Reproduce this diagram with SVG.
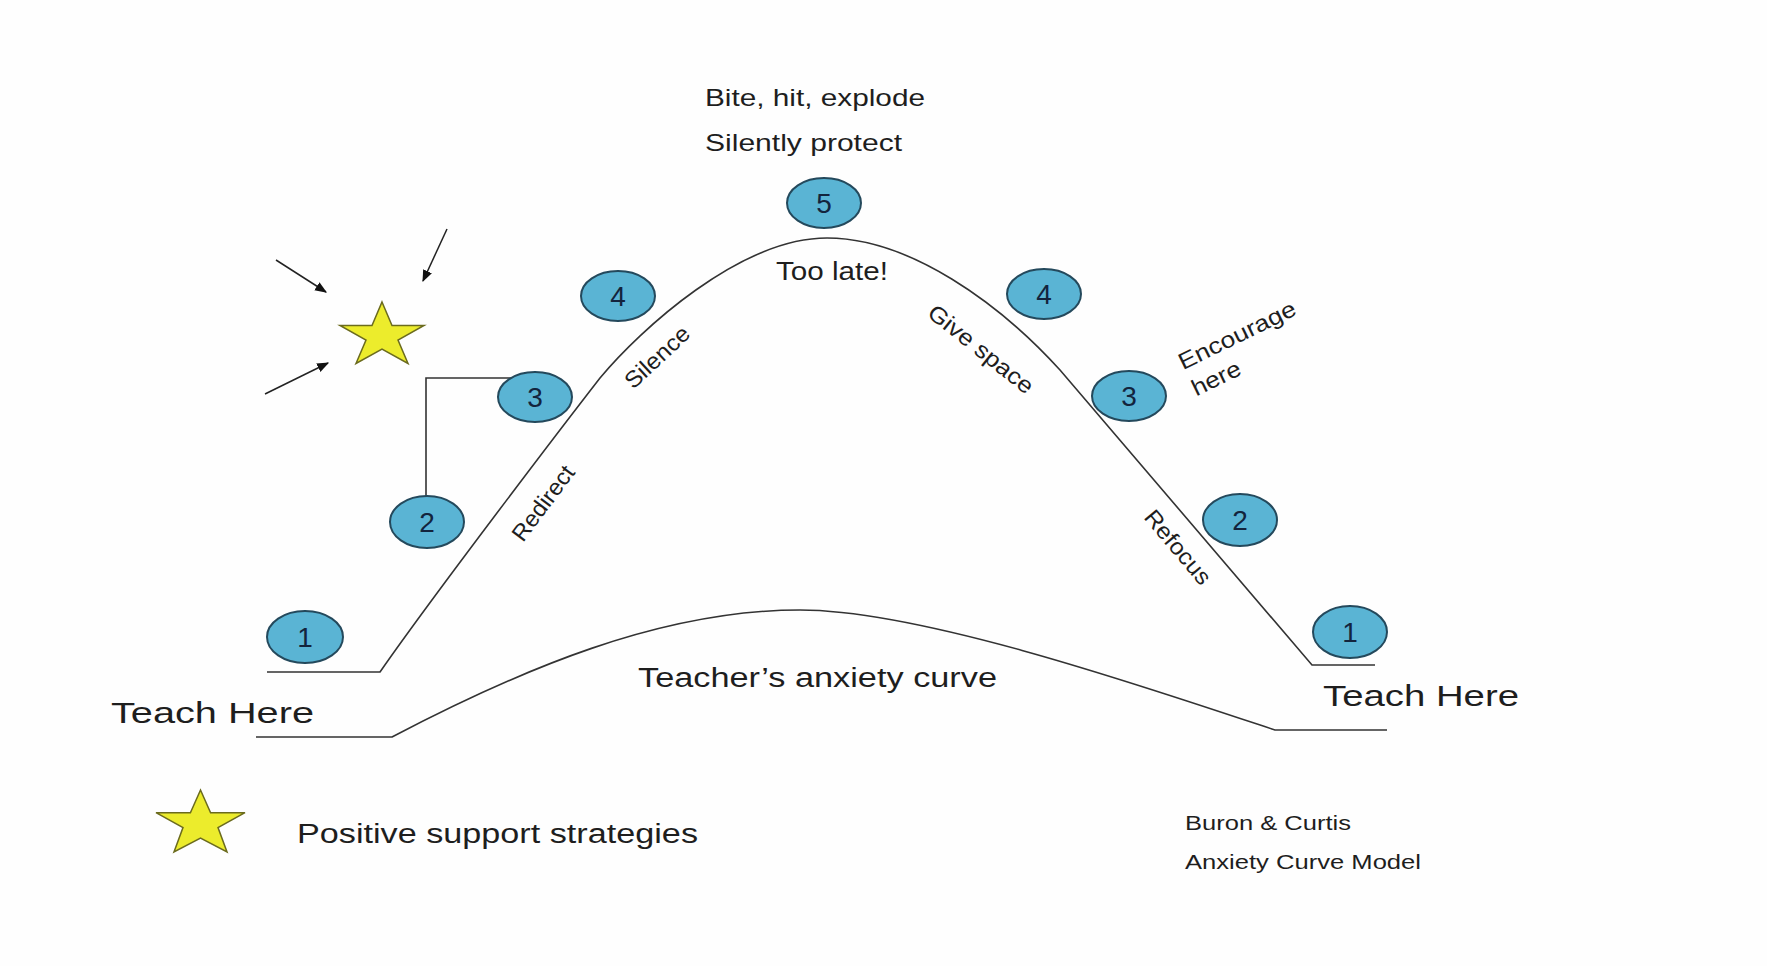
<svg xmlns="http://www.w3.org/2000/svg" width="1767" height="966" viewBox="0 0 1767 966">
<defs>
<style>
.bg{fill:#fefefe}
.curve{fill:none;stroke:#333;stroke-width:1.6}
.node ellipse{fill:#5ab4d4;stroke:#24495c;stroke-width:2}
.node text{font-family:"Liberation Sans",Arial,sans-serif;font-size:28px;fill:#13243d;text-anchor:middle}
.lbl{font-family:"Liberation Sans",Arial,sans-serif;fill:#1e1e1e}
.star{fill:#ecec2c;stroke:#6b6b1e;stroke-width:1.5;stroke-linejoin:miter}
.arr{stroke:#222;stroke-width:1.5;fill:none;marker-end:url(#ah)}
</style>
<marker id="ah" viewBox="0 0 10 10" refX="9" refY="5" markerWidth="12" markerHeight="12" orient="auto" markerUnits="userSpaceOnUse">
<path d="M0,1 L10,5 L0,9 z" fill="#111"/>
</marker>
</defs>
<rect class="bg" x="0" y="0" width="1767" height="966"/>

<g id="connectors">
<path id="main-curve" class="curve" d="M267,672 H380 C430,600 555,436 600,378 C640,330 740,238 827,238 C910,238 1000,304 1060,370 L1312,665 H1375"/>
<path id="teacher-curve" class="curve" d="M256,737 H392 C520,670 660,610 800,610 C920,610 1140,685 1275,730 H1387"/>
<polyline id="bracket" class="curve" points="426,496 426,378 532,378"/>
<line class="arr" x1="276" y1="260" x2="326" y2="292"/>
<line class="arr" x1="447" y1="229" x2="423" y2="281"/>
<line class="arr" x1="265" y1="394" x2="328" y2="363"/>
</g>

<g id="star-main">
<polygon class="star" points="382,302 392,325.5 424,325.5 398,340 408,363.5 382,349 356,363.5 366,340 340,325.5 372,325.5"/>
</g>

<g id="node5" class="node"><ellipse cx="824" cy="203" rx="37" ry="25"/><text x="824" y="213">5</text></g>
<g id="node4-left" class="node"><ellipse cx="618" cy="296" rx="37" ry="25"/><text x="618" y="306">4</text></g>
<g id="node4-right" class="node"><ellipse cx="1044" cy="294" rx="37" ry="25"/><text x="1044" y="304">4</text></g>
<g id="node3-left" class="node"><ellipse cx="535" cy="397" rx="37" ry="25"/><text x="535" y="407">3</text></g>
<g id="node3-right" class="node"><ellipse cx="1129" cy="396" rx="37" ry="25"/><text x="1129" y="406">3</text></g>
<g id="node2-left" class="node"><ellipse cx="427" cy="522" rx="37" ry="26"/><text x="427" y="532">2</text></g>
<g id="node2-right" class="node"><ellipse cx="1240" cy="520" rx="37" ry="26"/><text x="1240" y="530">2</text></g>
<g id="node1-left" class="node"><ellipse cx="305" cy="637" rx="38" ry="26"/><text x="305" y="647">1</text></g>
<g id="node1-right" class="node"><ellipse cx="1350" cy="632" rx="37" ry="26"/><text x="1350" y="642">1</text></g>

<g id="labels">
<text class="lbl" x="705" y="106" font-size="24" textLength="220" lengthAdjust="spacingAndGlyphs">Bite, hit, explode</text>
<text class="lbl" x="705" y="151" font-size="24" textLength="197" lengthAdjust="spacingAndGlyphs">Silently protect</text>
<text class="lbl" x="776" y="280" font-size="25" textLength="112" lengthAdjust="spacingAndGlyphs">Too late!</text>
<text class="lbl" x="111" y="723" font-size="30" textLength="203" lengthAdjust="spacingAndGlyphs">Teach Here</text>
<text class="lbl" x="1323" y="706" font-size="29" textLength="196" lengthAdjust="spacingAndGlyphs">Teach Here</text>
<text class="lbl" x="638" y="687" font-size="27" textLength="359" lengthAdjust="spacingAndGlyphs">Teacher’s anxiety curve</text>
<text class="lbl" x="297" y="843" font-size="27" textLength="401" lengthAdjust="spacingAndGlyphs">Positive support strategies</text>
<text class="lbl" x="1185" y="830" font-size="20" textLength="166" lengthAdjust="spacingAndGlyphs">Buron &amp; Curtis</text>
<text class="lbl" x="1185" y="869" font-size="20" textLength="236" lengthAdjust="spacingAndGlyphs">Anxiety Curve Model</text>
<text class="lbl" font-size="23" text-anchor="middle" transform="translate(543,503) rotate(-53)" y="8" textLength="88" lengthAdjust="spacingAndGlyphs">Redirect</text>
<text class="lbl" font-size="23" text-anchor="middle" transform="translate(657,357) rotate(-43)" y="8" textLength="80" lengthAdjust="spacingAndGlyphs">Silence</text>
<text class="lbl" font-size="23" text-anchor="middle" transform="translate(981,349) rotate(38.5)" y="8" textLength="128" lengthAdjust="spacingAndGlyphs">Give space</text>
<text class="lbl" font-size="23" text-anchor="middle" transform="translate(1237,335) rotate(-26)" y="8" textLength="128" lengthAdjust="spacingAndGlyphs">Encourage</text>
<text class="lbl" font-size="23" text-anchor="middle" transform="translate(1216,378) rotate(-26)" y="8" textLength="52" lengthAdjust="spacingAndGlyphs">here</text>
<text class="lbl" font-size="23" text-anchor="middle" transform="translate(1178,547) rotate(50)" y="8" textLength="90" lengthAdjust="spacingAndGlyphs">Refocus</text>
</g>

<g id="legend-star">
<polygon class="star" points="200.5,790 210.6,812.7 245,812.7 218,827.5 227,852 200.5,838 174,852 183,827.5 156,812.7 190.4,812.7"/>
</g>
</svg>
